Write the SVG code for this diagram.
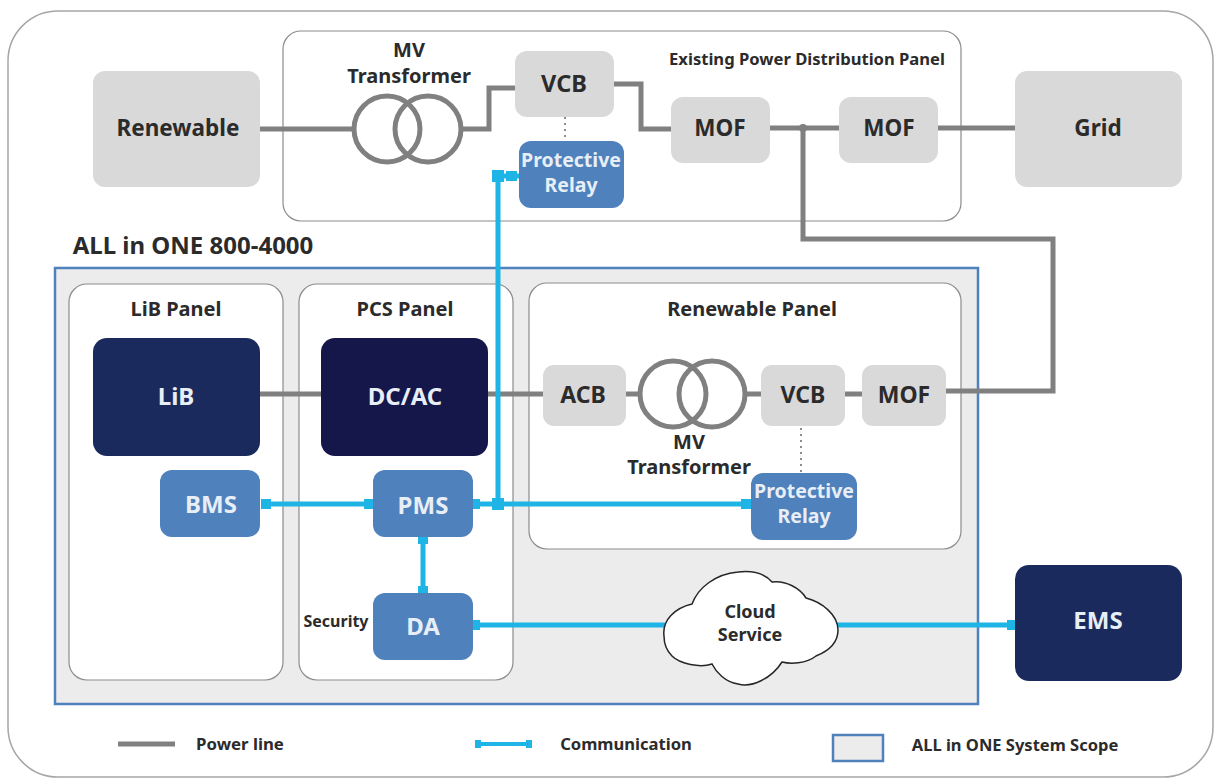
<svg xmlns="http://www.w3.org/2000/svg" width="1221" height="778" viewBox="0 0 1221 778">
<style>
text{font-family:"Noto Sans","Open Sans","Liberation Sans",sans-serif;font-weight:700;text-anchor:middle;fill:#2b2b2b}
.g{fill:#d9d9d9}
.b{fill:#4f81bd}
.n1{fill:#1b2a5c}
.n2{fill:#15174a}
.panel{fill:#fff;stroke:#8c8c8c;stroke-width:1.2}
.pw{fill:none;stroke:#808080;stroke-width:5}
.tr{fill:none;stroke:#808080;stroke-width:5}
.cm{fill:none;stroke:#1fb4e6;stroke-width:5}
.cd{fill:#1fb4e6}
.dot{fill:none;stroke:#8c8c8c;stroke-width:2;stroke-dasharray:2 4}
.lt{fill:#e8eef6}
</style>
<rect width="1221" height="778" fill="#fff"/>
<rect id="frame" x="8" y="11" width="1205" height="766" rx="50" fill="#fff" stroke="#a6a6a6" stroke-width="1.5"/>
<g id="existing-panel"><rect class="panel" x="283" y="31" width="678" height="190" rx="18"/><text x="807" y="65" font-size="16.6">Existing Power Distribution Panel</text></g>
<g id="scope"><rect x="55" y="268" width="923" height="436" fill="#ececec" stroke="#4f81bd" stroke-width="2.5"/></g>
<text id="scope-title" x="193" y="254" font-size="24">ALL in ONE 800-4000</text>
<g id="lib-panel"><rect class="panel" x="69" y="284" width="214" height="396" rx="18"/><text x="176" y="316" font-size="20">LiB Panel</text></g>
<g id="pcs-panel"><rect class="panel" x="299" y="284" width="214" height="396" rx="18"/><text x="405" y="316" font-size="20">PCS Panel</text></g>
<g id="renewable-panel"><rect class="panel" x="529" y="283" width="432" height="266" rx="18"/><text x="752" y="316" font-size="20">Renewable Panel</text></g>
<g id="connectors">
<path class="pw" d="M260 129H355M462 129H489V88H515M614 84H641V129H671M770 128H839M938 128H1015M803 128V239H1053V391H945M260 394H322M488 394H543M626 394H640M746 394H761M845 394H862"/>
<path class="dot" d="M565 117V141M801 428V472"/>
<path class="cm" d="M261 504H374M472 504H752M498 176V504M423 536V594M472 625H665M836 625H1015M498 176H519"/>
<path class="cd" d="M492 170h12v12h-12zM506 171h11v10h-11zM261 499h10v10h-10zM364 499h10v10h-10zM472 499h8v10h-8zM492 498h12v12h-12zM741 499h10v10h-10zM418 536h10v8h-10zM418 586h10v8h-10zM472 620h8v10h-8zM1007 620h8v10h-8z"/>
<circle cx="803" cy="128" r="4" fill="#808080"/>
</g>
<g id="renewable"><rect class="g" x="93" y="71" width="167" height="116" rx="12"/><text x="178" y="136" font-size="22.5">Renewable</text></g>
<g id="mv-transformer-top"><circle class="tr" cx="387" cy="129" r="33"/><circle class="tr" cx="428" cy="129" r="33"/><text x="409" y="57" font-size="20">MV</text><text x="409" y="83" font-size="20">Transformer</text></g>
<g id="vcb-top"><rect class="g" x="515" y="51" width="99" height="66" rx="12"/><text x="564" y="92" font-size="23.5">VCB</text></g>
<g id="protective-relay-top"><rect class="b" x="519" y="141" width="105" height="67" rx="12"/><text class="lt" x="571" y="167" font-size="19.5">Protective</text><text class="lt" x="571" y="192" font-size="19.5">Relay</text></g>
<g id="mof-1"><rect class="g" x="671" y="97" width="99" height="66" rx="12"/><text x="720" y="136" font-size="22.5">MOF</text></g>
<g id="mof-2"><rect class="g" x="839" y="97" width="99" height="66" rx="12"/><text x="889" y="136" font-size="22.5">MOF</text></g>
<g id="grid"><rect class="g" x="1015" y="71" width="167" height="116" rx="12"/><text x="1098" y="136" font-size="22.5">Grid</text></g>
<g id="lib"><rect class="n1" x="93" y="338" width="167" height="118" rx="14"/><text class="lt" x="176" y="405" font-size="24">LiB</text></g>
<g id="dcac"><rect class="n2" x="321" y="338" width="167" height="118" rx="14"/><text class="lt" x="405" y="405" font-size="24">DC/AC</text></g>
<g id="acb"><rect class="g" x="543" y="365" width="83" height="61" rx="11"/><text x="583" y="403" font-size="23">ACB</text></g>
<g id="mv-transformer-panel"><circle class="tr" cx="673" cy="394" r="33"/><circle class="tr" cx="712" cy="394" r="33"/><text x="689" y="449" font-size="20">MV</text><text x="689" y="474" font-size="20">Transformer</text></g>
<g id="vcb-panel"><rect class="g" x="761" y="365" width="84" height="61" rx="11"/><text x="803" y="403" font-size="23">VCB</text></g>
<g id="mof-panel"><rect class="g" x="862" y="365" width="84" height="61" rx="11"/><text x="904" y="403" font-size="23">MOF</text></g>
<g id="bms"><rect class="b" x="160" y="470" width="100" height="67" rx="12"/><text class="lt" x="211" y="513" font-size="24">BMS</text></g>
<g id="pms"><rect class="b" x="373" y="470" width="100" height="67" rx="12"/><text class="lt" x="423" y="514" font-size="24">PMS</text></g>
<g id="protective-relay-panel"><rect class="b" x="751" y="473" width="106" height="67" rx="12"/><text class="lt" x="804" y="498" font-size="19.5">Protective</text><text class="lt" x="804" y="523" font-size="19.5">Relay</text></g>
<g id="da"><rect class="b" x="373" y="593" width="100" height="67" rx="12"/><text class="lt" x="423" y="635" font-size="24">DA</text><text x="336" y="627" font-size="16">Security</text></g>
<g id="cloud"><path d="M664 636C662 620 675 608 692 604C698 588 715 574 738 572C755 570 765 574 772 582C785 580 800 588 806 598C822 602 838 615 838 630C838 645 826 652 816 656C806 664 790 664 782 662C772 678 752 688 738 684C725 682 716 672 712 664C700 668 680 664 672 656C666 650 664 644 664 636Z" fill="#fff" stroke="#262626" stroke-width="1.5"/><text x="750" y="618" font-size="18">Cloud</text><text x="750" y="641" font-size="18">Service</text></g>
<g id="ems"><rect class="n1" x="1015" y="565" width="167" height="116" rx="14"/><text class="lt" x="1098" y="629" font-size="24">EMS</text></g>
<g id="legend">
<path d="M118 744H175" stroke="#808080" stroke-width="5" fill="none"/><text x="240" y="750" font-size="16.8">Power line</text>
<path d="M477 744H530" stroke="#1fb4e6" stroke-width="4" fill="none"/><path class="cd" d="M475 740h6v8h-6zM526 740h6v8h-6z"/><text x="626" y="750" font-size="16.6">Communication</text>
<rect x="833" y="735" width="50" height="26" fill="#ececec" stroke="#4f81bd" stroke-width="2.5"/><text x="1015" y="751" font-size="16.5">ALL in ONE System Scope</text>
</g>
</svg>
